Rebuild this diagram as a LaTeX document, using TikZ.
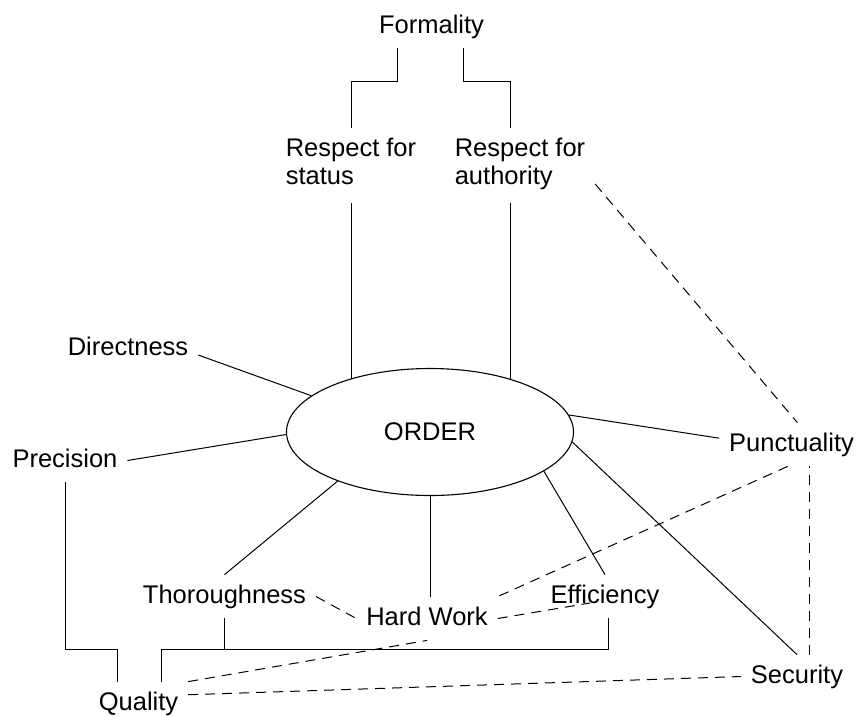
\documentclass[tikz,border=0pt]{standalone}
\usepackage{fontspec}
\setmainfont{Liberation Sans}
\usetikzlibrary{shapes.geometric}
\tikzset{
  concept/.style={inner sep=0pt,outer sep=10pt,text height=18.4pt,text depth=5.4pt,anchor=base},
  twoline/.style={inner sep=0pt,outer sep=10pt,align=left,anchor=north},
  core/.style={draw,ellipse,line width=1.1pt,inner sep=0pt,minimum width=287pt,minimum height=127pt},
  tie/.style={line width=1pt},
  looselink/.style={line width=1pt,dash pattern=on 10pt off 7pt}
}
\begin{document}
\begin{tikzpicture}[x=1pt,y=-1pt,font=\fontsize{25.5}{28}\selectfont]
    \useasboundingbox (0,0) rectangle (858,716);
    \node[core] (order) at (430,432) {ORDER};
    \node[concept] (formality) at (431.5,33) {Formality};
    \node[twoline] (status) at (351,128) {Respect for\\status};
    \node[twoline] (authority) at (520,128) {Respect for\\authority};
    \node[concept] (directness) at (128,355) {Directness};
    \node[concept] (precision) at (65,467) {Precision};
    \node[concept] (punctuality) at (791.5,451) {Punctuality};
    \node[concept] (thoroughness) at (224.5,603) {Thoroughness};
    \node[concept] (hardwork) at (427,625) {Hard Work};
    \node[concept] (efficiency) at (605,603) {Efficiency};
    \node[concept] (security) at (797,683) {Security};
    \node[concept] (quality) at (138.5,710) {Quality};
    \coordinate (formbar) at (0,81);
    \coordinate (bar) at (0,649);
    \coordinate (formleft) at ([xshift=-34.5pt]formality.south);
    \coordinate (formright) at ([xshift=31.5pt]formality.south);
    \coordinate (authtop) at ([xshift=-10pt]authority.north);
    \coordinate (authfoot) at ([xshift=-10pt]authority.south);
    \coordinate (qualleft) at ([xshift=-21.5pt]quality.north);
    \coordinate (qualright) at ([xshift=22.5pt]quality.north);
    \coordinate (effifoot) at ([xshift=3pt]efficiency.south);
    \coordinate (seculine) at ([xshift=12pt]security.north);
    \draw[tie] (formleft) |- (status.north |- formbar) -- (status.north);
    \draw[tie] (formright) |- (authtop |- formbar) -- (authtop);
    \draw[tie,shorten <=8pt] (status.south) -- (status.south |- order.147);
    \draw[tie,shorten <=3pt] (authfoot) -- (authfoot |- order.33);
    \draw[tie] (directness.base east) -- (order.163.5);
    \draw[tie] (precision.east) -- (order.181);
    \draw[tie] (order.7.5) -- (punctuality.175);
    \draw[tie] (order.208) -- (thoroughness.north);
    \draw[tie] (order.south) -- (order.south |- hardwork.north);
    \draw[tie] (order.-19) -- (efficiency.north);
    \draw[tie] (order.-4.5) -- (security.north);
    \draw[tie] (precision.south) |- (qualleft |- bar) -- (qualleft);
    \draw[tie] (qualright) -- (qualright |- bar) -| (effifoot);
    \draw[tie] (thoroughness.south) -- (thoroughness.south |- bar);
    \draw[looselink] (authority.-15) -- (punctuality.75);
    \draw[looselink] (punctuality.-100) -- (hardwork.north east);
    \draw[looselink] (thoroughness.east) -- (hardwork.west);
    \draw[looselink] (hardwork.east) -- ([xshift=-15pt]efficiency.base);
    \draw[looselink] (quality.north east) -- (hardwork.south);
    \draw[looselink] (quality.10) -- (security.west);
    \draw[looselink] (seculine) -- (seculine |- punctuality.south);
\end{tikzpicture}
\end{document}
